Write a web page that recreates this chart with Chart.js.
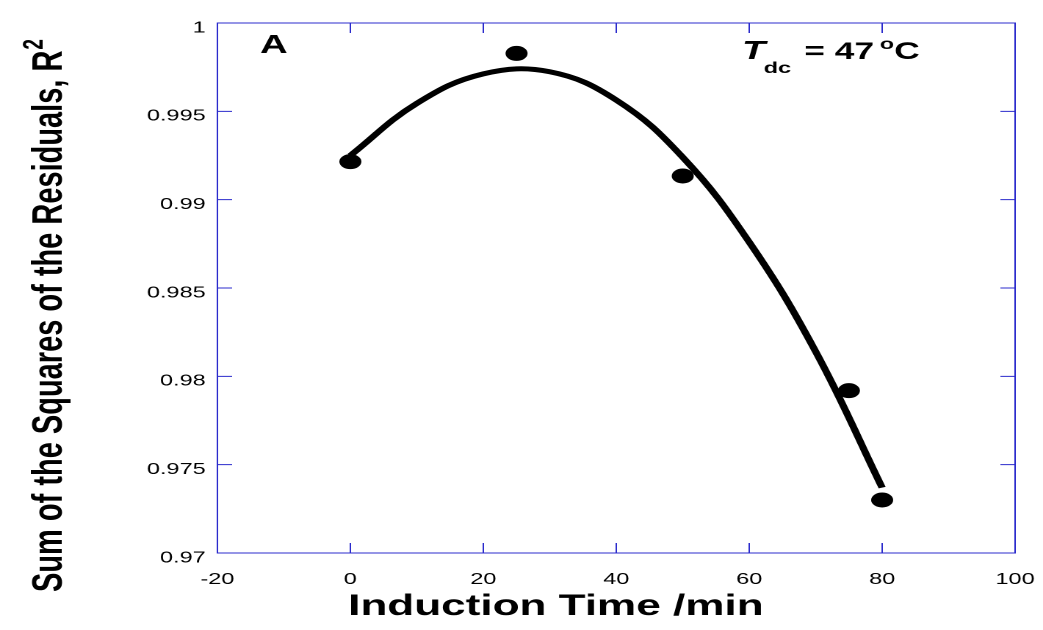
<!DOCTYPE html>
<html>
<head>
<meta charset="utf-8">
<script src="https://cdn.jsdelivr.net/npm/chart.js@4/dist/chart.umd.min.js"></script>
<style>
  body { margin: 0; background: #fff; }
</style>
</head>
<body>
<!-- drawn at 710 wide, then stretched across the page -->
<canvas id="r2-chart" width="710" height="630" style="width:1043px;height:630px"></canvas>
<script>
const inductionTimes = [0, 25, 50, 75, 80];
const r2Values = [0.99215, 0.99828, 0.99134, 0.97919, 0.9730];

// fitted curve, read at 10 min steps
const fitTimes = [0, 10, 20, 30, 40, 50, 60, 70, 80];
const fitValues = [0.9925, 0.99545, 0.99712, 0.99724, 0.99564, 0.9924, 0.9876, 0.9814, 0.9737];

const xTicks = [-20, 0, 20, 40, 60, 80, 100];
const yTicks = [0.97, 0.975, 0.98, 0.985, 0.99, 0.995, 1];
const yTickLabels = ['0.97', '0.975', '0.98', '0.985', '0.99', '0.995', '1'];

const frameBlue = '#2b2bcc';

// frame, inward tick marks on all four sides, axis titles and the corner notes
const frameAndLabels = {
    id: 'frameAndLabels',
    beforeDatasetsDraw(chart) {
        const ctx = chart.ctx;
        const area = chart.chartArea;
        const xs = chart.scales.x;
        const ys = chart.scales.y;
        const tick = 10;

        ctx.save();
        ctx.strokeStyle = frameBlue;
        ctx.lineWidth = 1;
        ctx.strokeRect(area.left, area.top, area.right - area.left, area.bottom - area.top);
        ctx.beginPath();
        for (const t of xs.ticks) {
            const px = xs.getPixelForValue(t.value);
            ctx.moveTo(px, area.bottom);
            ctx.lineTo(px, area.bottom - tick);
            ctx.moveTo(px, area.top);
            ctx.lineTo(px, area.top + tick);
        }
        for (const t of ys.ticks) {
            const py = ys.getPixelForValue(t.value);
            ctx.moveTo(area.left, py);
            ctx.lineTo(area.left + tick, py);
            ctx.moveTo(area.right, py);
            ctx.lineTo(area.right - tick, py);
        }
        ctx.stroke();
        ctx.restore();
    },
    afterDraw(chart) {
        const ctx = chart.ctx;
        ctx.save();
        ctx.fillStyle = '#000';
        ctx.textBaseline = 'alphabetic';
        ctx.textAlign = 'left';

        // x title
        ctx.font = 'bold 30px "Liberation Sans", Arial, sans-serif';
        ctx.fillText('Induction Time /min', 237, 615);

        // y title with a superscript 2
        ctx.save();
        ctx.translate(42, 592);
        ctx.rotate(-Math.PI / 2);
        ctx.font = 'bold 29px "Liberation Sans", Arial, sans-serif';
        const yTitle = 'Sum of the Squares of the Residuals, R';
        ctx.fillText(yTitle, 0, 0);
        const w = ctx.measureText(yTitle).width;
        ctx.font = 'bold 19px "Liberation Sans", Arial, sans-serif';
        ctx.fillText('2', w + 1, -13);
        ctx.restore();

        // panel letter
        ctx.font = 'bold 26px "Liberation Sans", Arial, sans-serif';
        ctx.fillText('A', 177, 53);

        // T_dc = 47 oC
        let x = 505;
        ctx.font = 'italic bold 26px "Liberation Sans", Arial, sans-serif';
        ctx.fillText('T', x, 59);
        x += ctx.measureText('T').width - 1;
        ctx.font = 'bold 16px "Liberation Sans", Arial, sans-serif';
        ctx.fillText('dc', x, 73);
        x += ctx.measureText('dc').width + 9;
        ctx.font = 'bold 24px "Liberation Sans", Arial, sans-serif';
        ctx.fillText('= 47', x, 59);
        x += ctx.measureText('= 47').width + 4;
        ctx.font = 'bold 16px "Liberation Sans", Arial, sans-serif';
        ctx.fillText('o', x, 49);
        x += ctx.measureText('o').width;
        ctx.font = 'bold 24px "Liberation Sans", Arial, sans-serif';
        ctx.fillText('C', x, 59);
        ctx.restore();
    }
};

const ctx = document.getElementById('r2-chart').getContext('2d');
window.myChart = new Chart(ctx, {
    type: 'scatter',
    data: {
        datasets: [
            {
                label: 'R2',
                data: inductionTimes.map((t, i) => ({ x: t, y: r2Values[i] })),
                backgroundColor: '#000',
                borderWidth: 0,
                pointRadius: 7.5,
                pointHoverRadius: 7.5
            },
            {
                label: 'fit',
                type: 'line',
                data: fitTimes.map((t, i) => ({ x: t, y: fitValues[i] })),
                borderColor: '#000',
                borderWidth: 5,
                pointRadius: 0,
                tension: 0.4,
                fill: false
            }
        ]
    },
    options: {
        responsive: false,
        devicePixelRatio: 2,
        animation: false,
        layout: {
            padding: { left: 0, right: 19, top: 23, bottom: 0 }
        },
        plugins: {
            legend: { display: false },
            tooltip: { enabled: false }
        },
        scales: {
            x: {
                type: 'linear',
                min: -20,
                max: 100,
                afterBuildTicks: (scale) => { scale.ticks = xTicks.map(v => ({ value: v })); },
                afterFit: (scale) => {
                    scale.height = 77;
                    // the end labels may hang past the frame
                    scale.paddingLeft = 0;
                    scale.paddingRight = 0;
                },
                grid: { display: false, drawTicks: false },
                border: { display: false },
                ticks: {
                    padding: 17,
                    color: '#000',
                    font: { family: '"Liberation Sans", Arial, sans-serif', size: 16 }
                }
            },
            y: {
                type: 'linear',
                min: 0.97,
                max: 1,
                afterBuildTicks: (scale) => { scale.ticks = yTicks.map(v => ({ value: v })); },
                afterFit: (scale) => {
                    scale.width = 148;
                    scale.paddingTop = 0;
                    scale.paddingBottom = 0;
                },
                grid: { display: false, drawTicks: false },
                border: { display: false },
                ticks: {
                    padding: 8,
                    labelOffset: 5,
                    color: '#000',
                    font: { family: '"Liberation Sans", Arial, sans-serif', size: 16 },
                    callback: (value, index) => yTickLabels[index]
                }
            }
        }
    },
    plugins: [frameAndLabels]
});
</script>
</body>
</html>
